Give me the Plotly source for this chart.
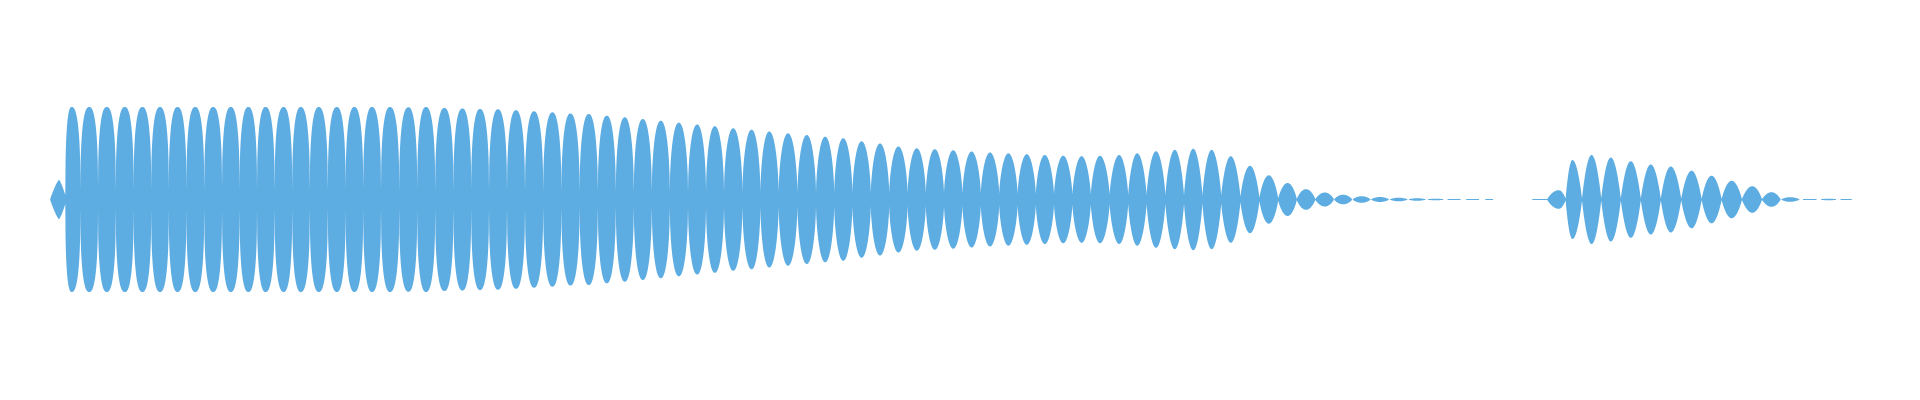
import numpy as np
import plotly.graph_objects as go

# ---- data -----------------------------------------------------------------
# time axis in ms, amplitude normalised (1.0 = full scale)

# burst 1: lobe peak times (ms) and peak amplitudes
B1_START = 125
B1_END = 3737
B1_CENTERS = [147.5, 179, 223, 267, 312, 356, 400, 444, 488, 533, 577, 621, 664, 709, 752, 797,
              842, 886, 930,
              975, 1021, 1065, 1111, 1156, 1200, 1245, 1290, 1335, 1381, 1426, 1472, 1517, 1562,
              1607, 1652, 1697, 1743, 1787, 1833, 1879, 1923, 1970,
              2017, 2063, 2108, 2154, 2200, 2246, 2292, 2337, 2383, 2429, 2475, 2521, 2567, 2612,
              2658, 2704, 2750, 2798, 2843, 2890, 2937, 2983,
              3029, 3077, 3125, 3172, 3219, 3265, 3312, 3358, 3404, 3450, 3497, 3543, 3589, 3635,
              3682, 3727]
B1_PEAKS = [0.197, 0.925, 0.925, 0.925, 0.925, 0.925, 0.925, 0.925, 0.925, 0.925, 0.925, 0.925,
            0.925, 0.925, 0.925, 0.925, 0.925, 0.925, 0.925,
            0.925, 0.922, 0.925, 0.915, 0.910, 0.905, 0.902, 0.893, 0.882, 0.872, 0.860, 0.855,
            0.838, 0.822, 0.805, 0.787, 0.768, 0.750, 0.733, 0.712, 0.698, 0.680, 0.662,
            0.645, 0.628, 0.613, 0.582, 0.560, 0.530, 0.512, 0.503, 0.492, 0.480, 0.470, 0.462,
            0.453, 0.445, 0.438, 0.433, 0.437, 0.445, 0.462, 0.483, 0.497, 0.508,
            0.497, 0.433, 0.337, 0.242, 0.165, 0.103, 0.070, 0.048, 0.033, 0.025, 0.018, 0.013,
            0.008, 0.005, 0.005, 0.004]
# level of the envelope between lobes, burst 1
B1_TROUGH_T = [125, 163, 201, 1000, 2000, 2525, 3000, 3053, 3100, 3150, 3250, 3350, 3737]
B1_TROUGH_A = [0.0, 0.045, 0.087, 0.09, 0.07, 0.058, 0.037, 0.04, 0.027, 0.017, 0.005, 0.0, 0.0]

# burst 2
B2_START = 3827
B2_END = 4635
B2_CENTERS = [3839, 3897, 3931, 3979, 4027, 4077, 4127, 4177, 4229, 4279, 4329, 4381, 4429,
              4475, 4525, 4572, 4617]
B2_PEAKS = [0.005, 0.093, 0.395, 0.445, 0.420, 0.383, 0.350, 0.330, 0.288, 0.238, 0.187, 0.133,
            0.073, 0.023, 0.005, 0.008, 0.005]
B2_TROUGH_T = [3827, 3918, 3960, 4400, 4450, 4635]
B2_TROUGH_A = [0.0, 0.01, 0.012, 0.005, 0.0, 0.0]

# lobe outline (top roundness q, flank steepness s) along the time axis
SHAPE_T = [147.5, 179, 1125, 1975, 2525, 3125, 3750, 4635]
SHAPE_Q = [1.3, 2.5, 2.4, 2.1, 2.0, 2.0, 2.0, 2.0]
SHAPE_S = [1.0, 2.5, 2.4, 1.6, 1.4, 1.1, 1.0, 1.0]

COLOR = "#5DADE2"
THRESH = 0.0025   # below this the envelope is not drawn
FLOOR = 0.006     # thinnest drawn band


def half_lobe(x, c, b, peak, trough, q, s):
    u = np.abs(x - c) / abs(b - c)
    f = np.clip(1 - u ** q, 0, 1) ** (1 / s)
    return trough + (peak - trough) * f


def envelope(start, end, centers, peaks, tr_t, tr_a):
    c = np.asarray(centers, float)
    a = np.asarray(peaks, float)
    bounds = np.concatenate([[start], (c[:-1] + c[1:]) / 2, [end]])
    troughs = np.interp(bounds, tr_t, tr_a)
    troughs[0] = 0.0
    troughs[-1] = 0.0
    xs, ys = [], []
    for i in range(len(c)):
        q = np.interp(c[i], SHAPE_T, SHAPE_Q)
        s = np.interp(c[i], SHAPE_T, SHAPE_S)
        ml = min(troughs[i], 0.9 * a[i])
        mr = min(troughs[i + 1], 0.9 * a[i])
        xl = np.arange(bounds[i], c[i], 0.625)
        xs.append(xl)
        ys.append(half_lobe(xl, c[i], bounds[i], a[i], ml, q, s))
        xr = np.arange(c[i], bounds[i + 1], 0.625)
        xs.append(xr)
        ys.append(half_lobe(xr, c[i], bounds[i + 1], a[i], mr, q, s))
    return np.concatenate(xs), np.concatenate(ys)


def polygons(x, env):
    on = env > THRESH
    px, py = [], []
    i = 0
    n = len(x)
    while i < n:
        if not on[i]:
            i += 1
            continue
        j = i
        while j < n and on[j]:
            j += 1
        seg_x = x[i:j]
        seg_y = np.maximum(env[i:j], FLOOR)
        px.extend([float(v) for v in seg_x] + [float(v) for v in seg_x[::-1]] + [None])
        py.extend([float(v) for v in seg_y] + [float(-v) for v in seg_y[::-1]] + [None])
        i = j
    return px, py


fig = go.Figure()
for args in [(B1_START, B1_END, B1_CENTERS, B1_PEAKS, B1_TROUGH_T, B1_TROUGH_A),
             (B2_START, B2_END, B2_CENTERS, B2_PEAKS, B2_TROUGH_T, B2_TROUGH_A)]:
    ex, ey = envelope(*args)
    px, py = polygons(ex, ey)
    fig.add_trace(go.Scatter(x=px, y=py, mode="lines", fill="toself",
                             fillcolor=COLOR,
                             line=dict(width=0, color=COLOR, simplify=False),
                             hoverinfo="skip", showlegend=False))

fig.update_layout(
    width=1920, height=400,
    margin=dict(l=0, r=0, t=0, b=0),
    paper_bgcolor="white", plot_bgcolor="white",
    xaxis=dict(visible=False, range=[0, 4800], fixedrange=True),
    yaxis=dict(visible=False, range=[-2.005, 1.995], fixedrange=True),
    showlegend=False,
)
fig.write_html("out.html", config={"displayModeBar": False},
               post_script="document.body.style.margin='0';document.body.style.overflow='hidden';")
